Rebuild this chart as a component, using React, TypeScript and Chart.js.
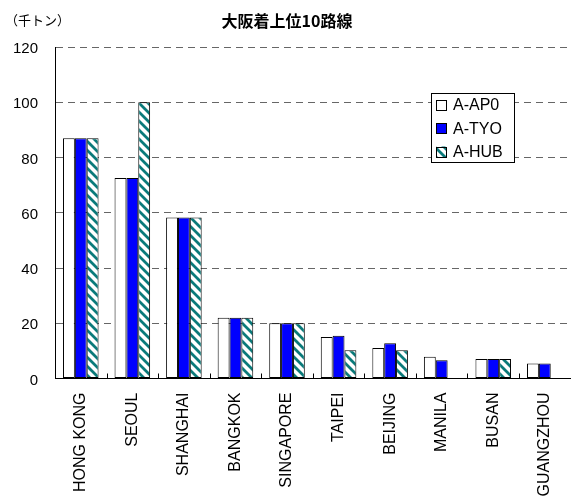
import React, { useEffect, useRef } from "react";
import { Chart, registerables } from "chart.js";

Chart.register(...registerables);

const categories = [
  "HONG KONG",
  "SEOUL",
  "SHANGHAI",
  "BANGKOK",
  "SINGAPORE",
  "TAIPEI",
  "BEIJING",
  "MANILA",
  "BUSAN",
  "GUANGZHOU",
];
const seriesNames = ["A-AP0", "A-TYO", "A-HUB"];
const apValues = [87, 72.6, 58.3, 22, 20, 15, 11, 7.9, 7.1, 5.4];
const tyoValues = [87, 72.6, 58.3, 22, 20, 15.5, 12.8, 6.6, 7.1, 5.4];
const hubValues: (number | null)[] = [87, 100, 58.3, 22, 20, 10.2, 10.2, null, 7.1, null];
const yTicks = [0, 20, 40, 60, 80, 100, 120];
const chartTitle = "大阪着上位10路線";
const unitLabel = "（千トン）";

const LATIN = "'Liberation Sans', Arial, sans-serif";
const CJK = "'Noto Sans CJK JP', 'Noto Sans', sans-serif";

function makeHatch(): CanvasPattern | string {
  const s = 9;
  const c = document.createElement("canvas");
  c.width = s;
  c.height = s;
  const g = c.getContext("2d");
  if (!g) return "#008080";
  g.fillStyle = "#ffffff";
  g.fillRect(0, 0, s, s);
  g.strokeStyle = "#0a7a7a";
  g.lineWidth = 2.8;
  g.beginPath();
  for (let k = -1; k <= 1; k++) {
    g.moveTo(k * s - 1, -1);
    g.lineTo(k * s + s + 1, s + 1);
  }
  g.stroke();
  return g.createPattern(c, "repeat") || "#008080";
}

const decorPlugin = {
  id: "decor",
  afterDraw(chart: any) {
    const { ctx, scales } = chart;
    const x = scales.x;
    const y = scales.y;
    ctx.save();

    // inner category separator ticks on the x axis
    const base = y.getPixelForValue(0);
    ctx.strokeStyle = "#000";
    ctx.lineWidth = 1;
    for (let i = 1; i < categories.length; i++) {
      const px = Math.round((x.getPixelForValue(i - 1) + x.getPixelForValue(i)) / 2) + 0.5;
      ctx.beginPath();
      ctx.moveTo(px, base);
      ctx.lineTo(px, base - 5);
      ctx.stroke();
    }

    // title and unit
    ctx.fillStyle = "#000";
    ctx.textBaseline = "middle";
    ctx.textAlign = "center";
    ctx.font = `bold 16px ${CJK}`;
    ctx.fillText(chartTitle, 287, 21);
    ctx.textAlign = "left";
    ctx.font = `13px ${CJK}`;
    ctx.fillText(unitLabel, 5, 20);

    // legend box
    const lx = 431;
    const ly = 93;
    const lw = 83;
    const lh = 69;
    ctx.fillStyle = "#fff";
    ctx.fillRect(lx, ly, lw, lh);
    ctx.strokeStyle = "#000";
    ctx.lineWidth = 1;
    ctx.strokeRect(lx + 0.5, ly + 0.5, lw, lh);
    const ds = chart.data.datasets;
    ctx.font = `16px ${LATIN}`;
    ctx.textBaseline = "middle";
    for (let i = 0; i < ds.length; i++) {
      const cy = ly + 12 + i * 23.5;
      ctx.fillStyle = ds[i].backgroundColor;
      ctx.fillRect(436, cy - 5.5, 11, 11);
      ctx.strokeStyle = "#000";
      ctx.strokeRect(436.5, Math.round(cy - 5.5) + 0.5, 10, 10);
      ctx.fillStyle = "#000";
      ctx.fillText(ds[i].label, 453, cy + 1);
    }
    ctx.restore();
  },
};

export default function App() {
  const ref = useRef<HTMLCanvasElement | null>(null);

  useEffect(() => {
    if (!ref.current) return;
    const hatch = makeHatch();
    const chart = new Chart(ref.current, {
      type: "bar",
      data: {
        labels: categories,
        datasets: [
          {
            label: seriesNames[0],
            data: apValues,
            backgroundColor: "#ffffff",
            borderColor: "#000",
            borderWidth: 1,
          },
          {
            label: seriesNames[1],
            data: tyoValues,
            backgroundColor: "#0000ff",
            borderColor: "#000",
            borderWidth: 1,
          },
          {
            label: seriesNames[2],
            data: hubValues,
            backgroundColor: hatch as any,
            borderColor: "#000",
            borderWidth: 1,
          },
        ],
      },
      options: {
        responsive: false,
        animation: false,
        devicePixelRatio: window.devicePixelRatio || 1,
        layout: { padding: { top: 47, left: 0, right: 0, bottom: 0 } },
        datasets: {
          bar: { categoryPercentage: 0.69, barPercentage: 1, borderSkipped: false as any },
        },
        plugins: {
          legend: { display: false },
          title: { display: false },
          tooltip: { enabled: false },
        },
        scales: {
          x: {
            grid: { display: true, drawOnChartArea: false, drawTicks: false },
            border: { display: true, color: "#000", width: 1 },
            ticks: {
              autoSkip: false,
              minRotation: 90,
              maxRotation: 90,
              padding: 14,
              color: "#000",
              font: { family: LATIN, size: 16 },
            },
            afterFit: (s: any) => {
              s.height = 120.5;
            },
          },
          y: {
            min: 0,
            max: 120,
            grid: {
              drawTicks: false,
              color: (c: any) => (c.tick && c.tick.value === 0 ? "rgba(0,0,0,0)" : "#666"),
              lineWidth: 1,
            },
            border: { display: true, color: "#000", width: 1, dash: [7, 5] },
            ticks: {
              padding: 17,
              labelOffset: 2,
              color: "#000",
              font: { family: LATIN, size: 15 },
            },
            afterBuildTicks: (s: any) => {
              s.ticks = yTicks.map((v) => ({ value: v }));
            },
            afterFit: (s: any) => {
              s.width = 55;
            },
          },
        },
      },
      plugins: [decorPlugin],
    });
    return () => chart.destroy();
  }, []);

  return (
    <div
      style={{
        position: "absolute",
        left: 0,
        top: 0,
        width: 578,
        height: 499,
        background: "#fff",
        overflow: "hidden",
      }}
    >
      <canvas ref={ref} width={578} height={499} style={{ display: "block" }} />
    </div>
  );
}
